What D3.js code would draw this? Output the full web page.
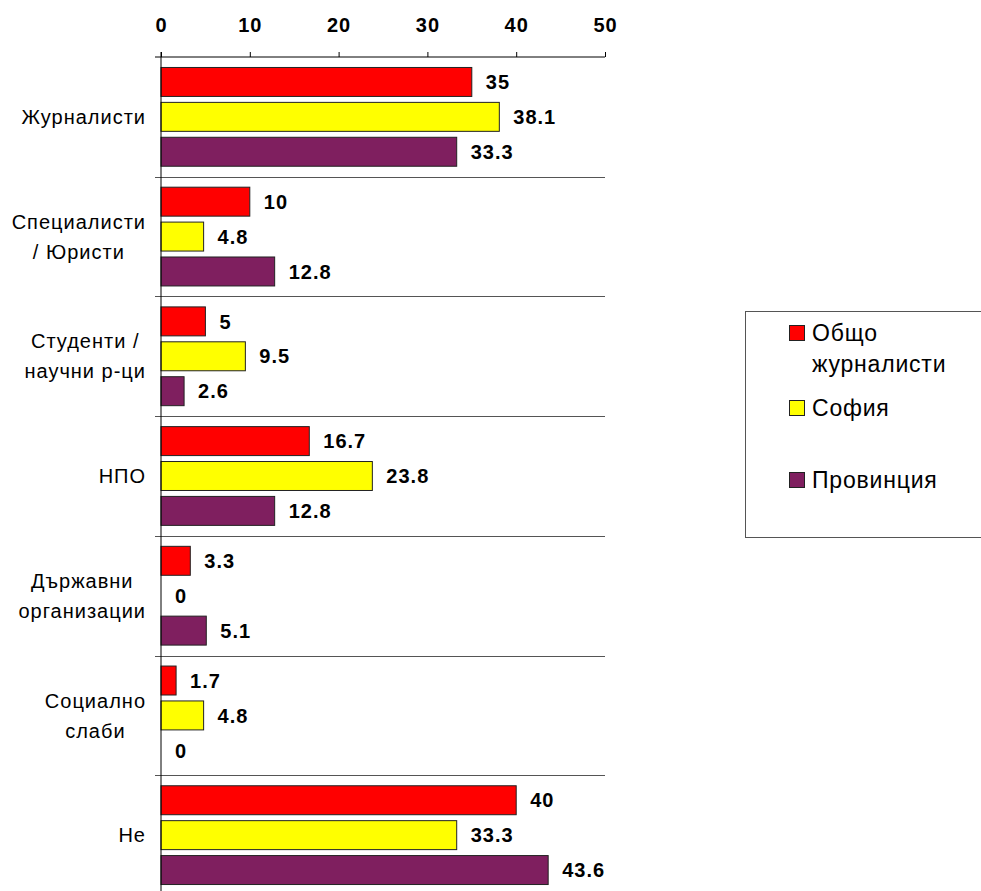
<!DOCTYPE html>
<html lang="bg">
<head>
<meta charset="UTF-8">
<title>Chart</title>
<script src="https://d3js.org/d3.v7.min.js"></script>
<style>
  body { margin: 0; background: #fff; }
  text { font-family: "Liberation Sans", Arial, sans-serif; fill: #000; }
</style>
</head>
<body>
<div id="chart"></div>
<script>
// data
var categories = [
  ["Журналисти"],
  ["Специалисти", "/ Юристи"],
  ["Студенти /", "научни р-ци"],
  ["НПО"],
  ["Държавни", "организации"],
  ["Социално", "слаби"],
  ["Не"]
];
var seriesNames = ["Общо журналисти", "София", "Провинция"];
var legendLines = [["Общо", "журналисти"], ["София"], ["Провинция"]];
var seriesColors = ["#ff0000", "#ffff00", "#7f1f5f"];
var obshto    = [35, 10, 5, 16.7, 3.3, 1.7, 40];
var sofia     = [38.1, 4.8, 9.5, 23.8, 0, 4.8, 33.3];
var provincia = [33.3, 12.8, 2.6, 12.8, 5.1, 0, 43.6];
var xTicks = [0, 10, 20, 30, 40, 50];

var values = [obshto, sofia, provincia];
var width = 981, height = 891;

var svg = d3.select("#chart").append("svg")
  .attr("width", width)
  .attr("height", height);

var x = d3.scaleLinear().domain([0, 50]).range([161, 605]);
var y = d3.scaleBand().domain(d3.range(categories.length)).range([57, 895]);
var ys = d3.scaleBand().domain(d3.range(3)).range([0, y.bandwidth()])
  .paddingInner(0.17).paddingOuter(0.3);

// top axis
var axis = svg.append("g").attr("transform", "translate(0,57)")
  .call(d3.axisTop(x).tickValues(xTicks).tickSize(5).tickPadding(20).tickFormat(d3.format("d")));
axis.select(".domain").remove();
axis.selectAll("line").attr("stroke", "#000");
axis.selectAll("text")
  .style("font-family", "'Liberation Sans', Arial, sans-serif")
  .style("font-size", "20px").style("font-weight", "bold")
  .style("letter-spacing", "1px").attr("fill", "#000");
svg.append("line").attr("x1", 155).attr("x2", x(50)).attr("y1", 57).attr("y2", 57)
  .attr("stroke", "#000");

// category separators
svg.append("g").selectAll("line")
  .data(d3.range(1, categories.length))
  .join("line")
  .attr("x1", 155).attr("x2", x(50))
  .attr("y1", function(i) { return Math.round(y(i)) + 0.5; })
  .attr("y2", function(i) { return Math.round(y(i)) + 0.5; })
  .attr("stroke", "#555");

// bars
var groups = svg.append("g").selectAll("g")
  .data(categories)
  .join("g")
  .attr("transform", function(d, i) { return "translate(0," + y(i) + ")"; });

groups.each(function(cat, ci) {
  var g = d3.select(this);
  values.forEach(function(arr, si) {
    var v = arr[ci];
    if (v > 0) {
      g.append("rect")
        .attr("x", x(0)).attr("y", ys(si))
        .attr("width", x(v) - x(0)).attr("height", ys.bandwidth())
        .attr("fill", seriesColors[si])
        .attr("stroke", "#222").attr("stroke-width", 1);
    }
    g.append("text")
      .attr("x", x(v) + 14)
      .attr("y", ys(si) + ys.bandwidth() / 2)
      .attr("dy", "0.36em")
      .style("font-size", "20px").style("font-weight", "bold")
      .style("letter-spacing", "1px")
      .text(v);
  });

  // category label: block right-aligned, lines centred
  var lab = g.append("text").style("font-size", "20px").style("letter-spacing", "1px")
    .attr("text-anchor", "middle");
  var lh = 30;
  var y0 = y.bandwidth() / 2 - (cat.length - 1) * lh / 2;
  cat.forEach(function(line, li) {
    lab.append("tspan").attr("x", 0).attr("y", y0 + li * lh).attr("dy", "0.36em").text(line);
  });
  var w = 0;
  lab.selectAll("tspan").each(function() { w = Math.max(w, this.getComputedTextLength()); });
  lab.selectAll("tspan").attr("x", 146 - w / 2);
});

// left axis line
svg.append("line").attr("x1", x(0)).attr("x2", x(0)).attr("y1", 52).attr("y2", 891)
  .attr("stroke", "#000");

// legend
var legend = svg.append("g");
legend.append("rect").attr("x", 745.5).attr("y", 311.5).attr("width", 240).attr("height", 226)
  .attr("fill", "#fff").attr("stroke", "#555");
var legendY = [333, 408, 480];
legendLines.forEach(function(lines, i) {
  legend.append("rect").attr("x", 789.5).attr("y", legendY[i] - 7.5).attr("width", 15).attr("height", 15)
    .attr("fill", seriesColors[i]).attr("stroke", "#222");
  var t = legend.append("text").style("font-size", "23px").style("letter-spacing", "0.8px");
  lines.forEach(function(line, li) {
    t.append("tspan").attr("x", 812).attr("y", legendY[i] + li * 31).attr("dy", "0.36em").text(line);
  });
});
</script>
</body>
</html>
